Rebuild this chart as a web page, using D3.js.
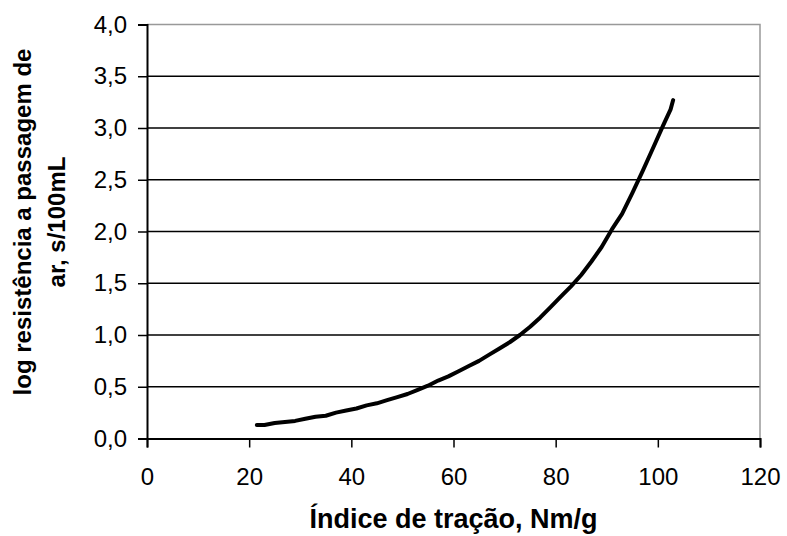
<!DOCTYPE html>
<html><head><meta charset="utf-8">
<script src="https://cdn.jsdelivr.net/npm/d3@7"></script>
<style>body{margin:0;background:#fff}svg{display:block}text{font-family:"Liberation Sans",Arial,sans-serif}</style>
</head><body><svg id="c" width="787" height="536"></svg>
<script>
const tensileIndex = [21.5,23,25,27,29,31,33,35,37,39,41,43,45,47,49,51,53,55,57,59,61,63,65,67,69,71,73,75,77,79,81,83,85,87,89,91,93,95,97,99,101,102.5,103];
const logResistance = [0.13,0.13,0.15,0.16,0.17,0.19,0.21,0.22,0.25,0.27,0.29,0.32,0.34,0.37,0.40,0.43,0.47,0.51,0.56,0.60,0.65,0.70,0.75,0.81,0.87,0.93,1.00,1.08,1.17,1.27,1.37,1.47,1.58,1.71,1.85,2.02,2.17,2.37,2.58,2.80,3.02,3.18,3.27];
const xTicks = [0,20,40,60,80,100,120];
const yTicks = [0,0.5,1.0,1.5,2.0,2.5,3.0,3.5,4.0];
const xTitle = "Índice de tração, Nm/g";
const yTitleLines = ["log resistência a passagem de","ar, s/100mL"];

const svg = d3.select("#c");
const L=147, R=760, T=24.5, B=438.5;
const x = d3.scaleLinear().domain([0,120]).range([L,R]);
const y = d3.scaleLinear().domain([0,4]).range([B,T]);
const fmt = d => d.toFixed(1).replace(".",",");

// gridlines
svg.append("g").selectAll("line").data(yTicks.filter(d=>d>0 && d<4)).join("line")
  .attr("x1",L).attr("x2",R).attr("y1",d=>y(d)).attr("y2",d=>y(d))
  .attr("stroke","#000").attr("stroke-width",1.5);
// top & right border
svg.append("path").attr("d",`M${L},${y(4)}H${R}V${B}`).attr("fill","none").attr("stroke","#999").attr("stroke-width",1.5);

// y axis
const ya = svg.append("g").attr("transform",`translate(${L},0)`)
  .call(d3.axisLeft(y).tickValues(yTicks).tickFormat(fmt).tickSize(9).tickPadding(11));
ya.select(".domain").attr("stroke","#000").attr("stroke-width",2);
ya.selectAll(".tick line").attr("stroke","#000").attr("stroke-width",1.5);
ya.selectAll("text").attr("font-size",24).attr("fill","#000").attr("font-family","Liberation Sans, Arial, sans-serif");

// x axis
const xa = svg.append("g").attr("transform",`translate(0,${B})`)
  .call(d3.axisBottom(x).tickValues(xTicks).tickFormat(d3.format("d")).tickSize(9).tickPadding(20));
xa.select(".domain").attr("stroke","#000").attr("stroke-width",2);
xa.selectAll(".tick line").attr("stroke","#000").attr("stroke-width",1.5);
xa.selectAll("text").attr("font-size",24).attr("fill","#000").attr("font-family","Liberation Sans, Arial, sans-serif");

// curve
svg.append("path").datum(tensileIndex.map((v,i)=>[v,logResistance[i]]))
  .attr("d",d3.line().x(d=>x(d[0])).y(d=>y(d[1])))
  .attr("fill","none").attr("stroke","#000").attr("stroke-width",4)
  .attr("stroke-linejoin","round").attr("stroke-linecap","round");

// titles
svg.append("text").attr("x",(L+R)/2).attr("y",528).attr("text-anchor","middle")
  .attr("font-size",27).attr("font-weight","bold").text(xTitle);
const yt = svg.append("text").attr("transform",`translate(0,222) rotate(-90)`).attr("text-anchor","middle")
  .attr("font-size",24).attr("font-weight","bold");
yTitleLines.forEach((t,i)=>yt.append("tspan").attr("x",0).attr("y",i===0?31:65).text(t));
</script></body></html>
